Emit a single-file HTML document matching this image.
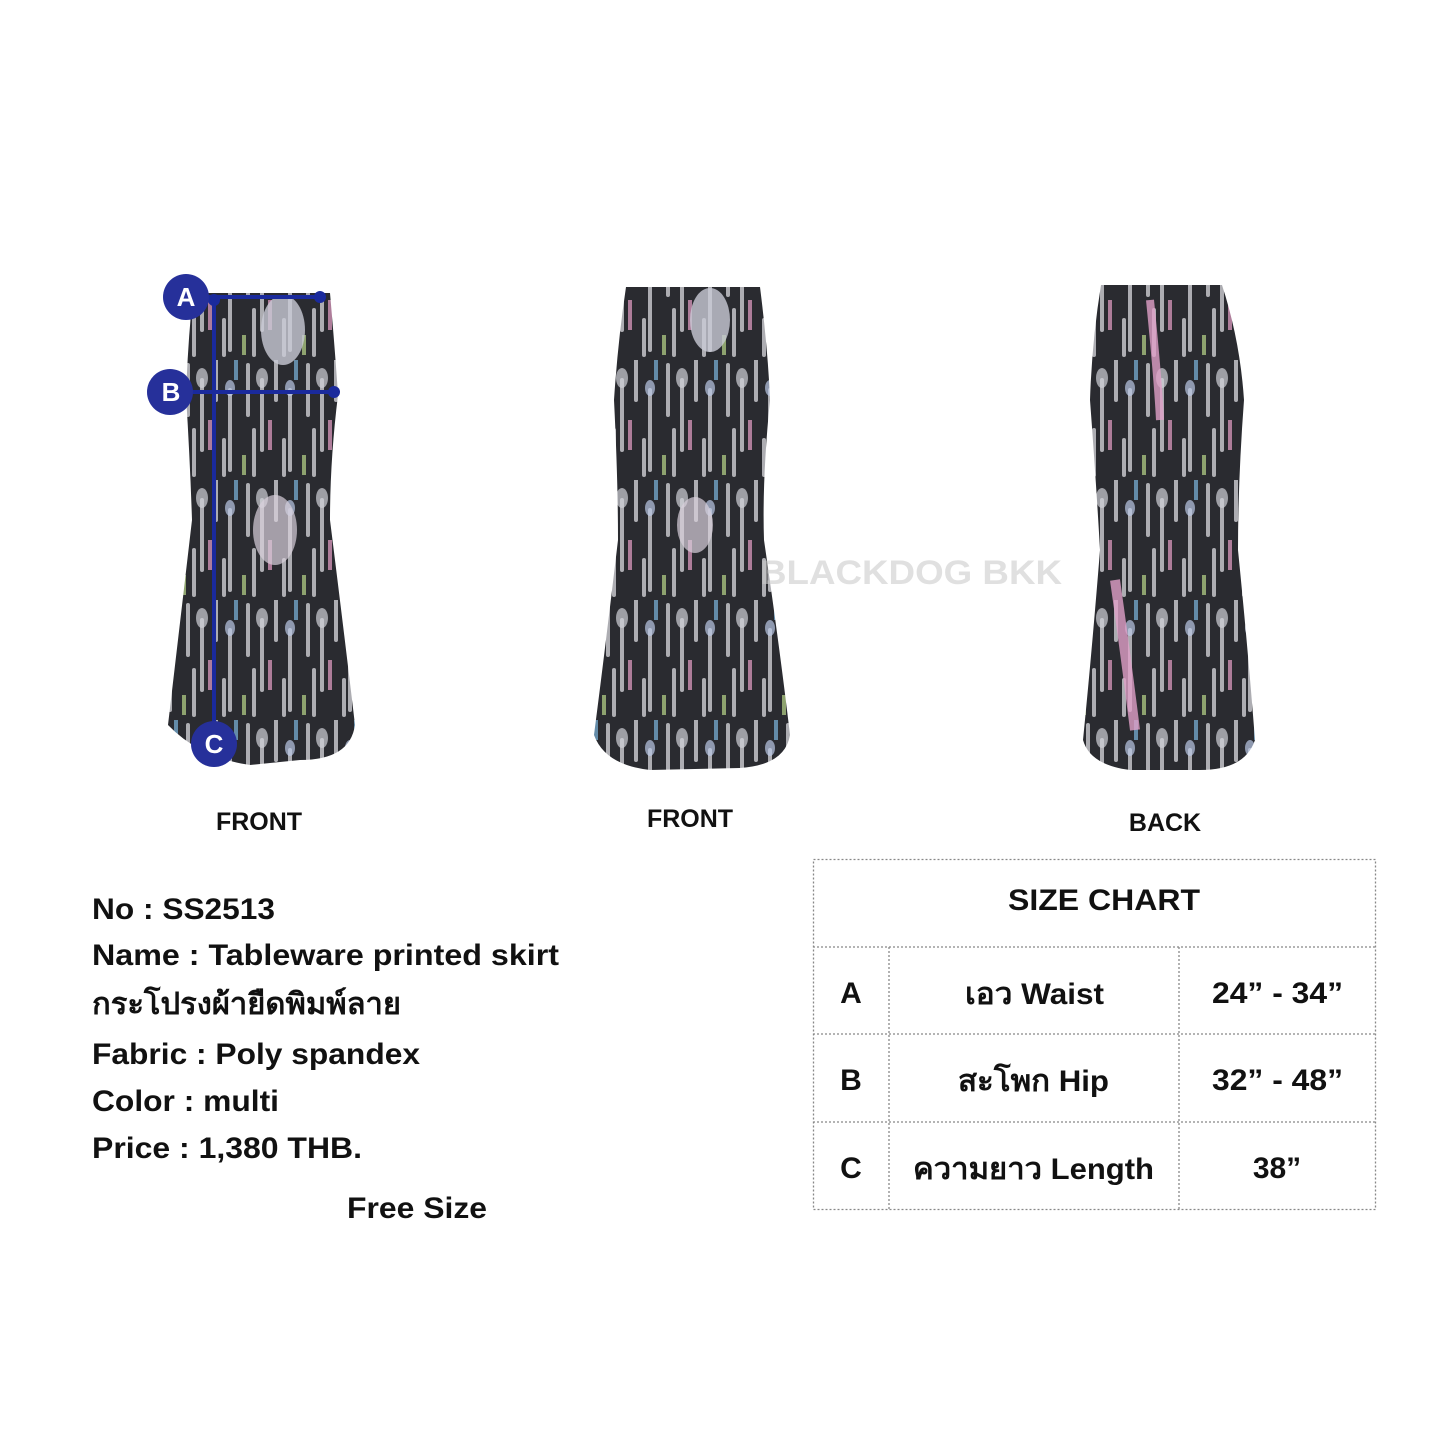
<!DOCTYPE html>
<html><head><meta charset="utf-8"><style>
html,body{margin:0;padding:0;background:#fff}
svg{display:block}
text{font-family:"Liberation Sans",Arial,sans-serif;font-weight:bold;fill:#111}
</style></head><body>
<svg width="1445" height="1445" viewBox="0 0 1445 1445" xmlns="http://www.w3.org/2000/svg">
<defs>
<pattern id="pat" width="60" height="120" patternUnits="userSpaceOnUse">
<rect width="60" height="120" fill="#2a2b30"/>
<path d="M8 5v50M22 20v70M36 0v40M50 30v80M14 70v45M44 80v35" stroke="#d8d8de" stroke-width="4" stroke-linecap="round" opacity="0.75"/>
<ellipse cx="22" cy="18" rx="6" ry="10" fill="#cfd0d8" opacity="0.7"/>
<ellipse cx="50" cy="28" rx="5" ry="8" fill="#b9c8e6" opacity="0.7"/>
<path d="M30 60v30" stroke="#e6a0c8" stroke-width="4" opacity="0.7"/>
<path d="M4 95v20" stroke="#b8d68a" stroke-width="4" opacity="0.7"/>
<path d="M56 0v20" stroke="#7ab4dc" stroke-width="4" opacity="0.7"/>
</pattern>
</defs>

<path d="M193 293 L330 293 Q335 350 338 395 Q330 460 330 520 Q345 640 355 725 Q350 760 300 760 L250 765 Q200 758 168 725 Q178 640 192 520 Q190 460 186 395 Q188 340 193 293 Z" fill="url(#pat)"/>
<ellipse cx="283" cy="330" rx="22" ry="35" fill="#c9cad6" opacity="0.8"/>
<ellipse cx="275" cy="530" rx="22" ry="35" fill="#d8d0dc" opacity="0.7"/>
<g stroke="#1a2a9c" stroke-width="4">
<line x1="190" y1="297" x2="320" y2="297"/>
<line x1="170" y1="392" x2="334" y2="392"/>
<line x1="214" y1="300" x2="214" y2="745"/>
</g>
<circle cx="320" cy="297" r="6" fill="#1a2a9c"/>
<circle cx="334" cy="392" r="6" fill="#1a2a9c"/>
<circle cx="214" cy="300" r="6" fill="#1a2a9c"/>
<circle cx="186" cy="297" r="23" fill="#26309a"/>
<circle cx="170" cy="392" r="23" fill="#26309a"/>
<circle cx="214" cy="744" r="23" fill="#26309a"/>
<text x="186" y="306" font-size="26" text-anchor="middle" style="fill:#fff">A</text>
<text x="171" y="401" font-size="26" text-anchor="middle" style="fill:#fff">B</text>
<text x="214" y="753" font-size="26" text-anchor="middle" style="fill:#fff">C</text>

<path d="M626 287 L760 287 Q768 350 770 400 Q762 480 764 540 Q780 650 790 735 Q785 765 740 768 L650 770 Q605 765 594 735 Q605 650 618 540 Q618 480 614 400 Q618 340 626 287 Z" fill="url(#pat)"/>
<ellipse cx="710" cy="320" rx="20" ry="32" fill="#c9cad6" opacity="0.8"/>
<ellipse cx="695" cy="525" rx="18" ry="28" fill="#d8d0dc" opacity="0.7"/>

<path d="M1101 285 L1222 285 Q1240 340 1244 400 Q1238 480 1238 550 Q1248 650 1255 740 Q1245 770 1200 770 L1130 770 Q1090 765 1083 740 Q1092 650 1100 550 Q1096 480 1090 400 Q1092 340 1101 285 Z" fill="url(#pat)"/>
<path d="M1115 580 Q1125 650 1135 730" stroke="#e0a0c8" stroke-width="10" fill="none" opacity="0.8"/>
<path d="M1150 300 Q1158 380 1160 420" stroke="#e0a0c8" stroke-width="8" fill="none" opacity="0.8"/>

<text x="760" y="584" font-size="34" style="fill:#ccc;opacity:0.6" textLength="302" lengthAdjust="spacingAndGlyphs">BLACKDOG BKK</text>

<text x="259" y="830" font-size="25" text-anchor="middle">FRONT</text>
<text x="690" y="827" font-size="25" text-anchor="middle">FRONT</text>
<text x="1165" y="831" font-size="25" text-anchor="middle">BACK</text>

<g font-size="30">
<text x="92" y="919" textLength="183" lengthAdjust="spacingAndGlyphs">No : SS2513</text>
<text x="92" y="965" textLength="467" lengthAdjust="spacingAndGlyphs">Name : Tableware printed skirt</text>
<text x="92" y="1014" textLength="309" lengthAdjust="spacingAndGlyphs">กระโปรงผ้ายืดพิมพ์ลาย</text>
<text x="92" y="1064" textLength="328" lengthAdjust="spacingAndGlyphs">Fabric : Poly spandex</text>
<text x="92" y="1111" textLength="187" lengthAdjust="spacingAndGlyphs">Color : multi</text>
<text x="92" y="1158" textLength="270" lengthAdjust="spacingAndGlyphs">Price : 1,380 THB.</text>
<text x="347" y="1218" textLength="140" lengthAdjust="spacingAndGlyphs">Free Size</text>
</g>

<g stroke="#888" stroke-width="1.3" stroke-dasharray="2,2" fill="none">
<rect x="813.5" y="859.5" width="562" height="350"/>
<line x1="813" y1="947" x2="1376" y2="947"/>
<line x1="813" y1="1034" x2="1376" y2="1034"/>
<line x1="813" y1="1122" x2="1376" y2="1122"/>
<line x1="889" y1="947" x2="889" y2="1210"/>
<line x1="1179" y1="947" x2="1179" y2="1210"/>
</g>
<g font-size="30">
<text x="1008" y="910" textLength="192" lengthAdjust="spacingAndGlyphs">SIZE CHART</text>
<text x="851" y="1003" text-anchor="middle">A</text>
<text x="965" y="1004" textLength="139" lengthAdjust="spacingAndGlyphs">เอว Waist</text>
<text x="1212" y="1003" textLength="131" lengthAdjust="spacingAndGlyphs">24” - 34”</text>
<text x="851" y="1090" text-anchor="middle">B</text>
<text x="958" y="1091" textLength="151" lengthAdjust="spacingAndGlyphs">สะโพก Hip</text>
<text x="1212" y="1090" textLength="131" lengthAdjust="spacingAndGlyphs">32” - 48”</text>
<text x="851" y="1178" text-anchor="middle">C</text>
<text x="913" y="1179" textLength="241" lengthAdjust="spacingAndGlyphs">ความยาว Length</text>
<text x="1277" y="1178" text-anchor="middle">38”</text>
</g>
</svg>
</body></html>
